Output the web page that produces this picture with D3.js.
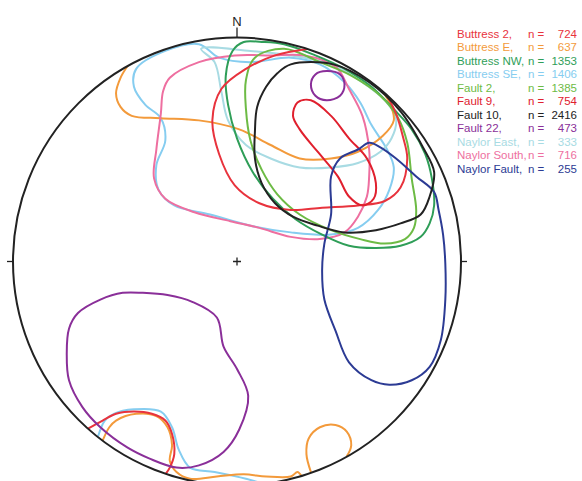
<!DOCTYPE html>
<html><head><meta charset="utf-8">
<script src="https://cdn.jsdelivr.net/npm/d3@7"></script>
<style>body{margin:0;background:#fff}svg{display:block}</style>
</head><body>
<svg id="chart" width="582" height="481"></svg>
<script>
// Data sets shown on the net, with their pole counts
const setNames = ["Buttress 2,", "Buttress E,", "Buttress NW,", "Buttress SE,", "Fault 2,", "Fault 9,",
  "Fault 10,", "Fault 22,", "Naylor East,", "Naylor South,", "Naylor Fault,"];
const setCounts = ["724", "637", "1353", "1406", "1385", "754", "2416", "473", "333", "716", "255"];
const setColors = ["#e8333d", "#f39a3b", "#2f9e58", "#86cdf0", "#6dbb45", "#e0202e",
  "#222222", "#8a2f99", "#a8dbe3", "#ee6fa0", "#2c3b94"];

// Contour rings in net coordinates (primitive radius = 100, x east, y north)
const buttress2Upper = [[67,74],[71,66],[74,56],[76,46],[73,33],[66,27],[54,25],[38,24],[24,23],[10,26],[-1,34],[-8,48],[-11,63],[-7,77],[4,86],[17,92],[32,95]];
const buttress2Lower = [[-66.5,-74.6],[-60,-71],[-54,-68],[-46,-67],[-38,-68],[-32,-71],[-29,-77],[-28,-86],[-30,-92],[-32,-95]];
const buttressEUpper = [[-48.7,87.5],[-52,82],[-54,75],[-52,69],[-47,65],[-34,64],[-17,63],[1,59],[15,52],[28,46],[42,46],[54,49],[65,56],[70,63],[68,71],[63,78],[60,80]];
const buttressELower = [[-60,-80],[-57,-74],[-54,-71],[-45,-68],[-36,-69],[-31,-74],[-29,-82],[-30,-89],[-27,-94],[-21,-97],[-9,-96],[3,-95],[13,-96],[24,-96],[27,-94],[29,-96]];
const buttressELoop = [[33,-94],[31,-86],[32,-79],[37,-74],[44,-73],[49,-76],[51,-82],[49,-87]];
const buttressNW = [[-2,94],[3,98],[11,98],[21,97],[35,92],[48,86],[60,78],[70,68],[78,59],[84,48],[87,37],[88,25],[86,17],[82,11],[73,7],[62,6],[50,7],[38,12],[26,19],[16,28],[7,40],[0,55],[-4,70],[-5,83]];
const buttressSE = [[-45,86],[-32,94],[-17,97],[-8,91],[6,89],[24,91],[37,88],[48,80],[55,71],[60,61],[67,50],[70,42],[68,32],[63,23],[54,15],[42,12],[24,13],[6,16],[-12,21],[-28,25],[-35,32],[-36,43],[-32,54],[-34,64],[-41,70],[-46,78]];
const buttressSELower = [[-62,-78],[-59,-71],[-55,-68],[-46,-66],[-34,-67],[-29,-74],[-26,-84],[-21,-92],[-10,-94],[4,-97],[11,-99]];
const fault2 = [[8,91],[21,95],[37,89],[51,83],[64,74],[72,64],[76,53],[78,37],[80,23],[79,15],[75,10],[66,8],[55,10],[42,14],[28,21],[18,30],[11,41],[6,54],[4,68],[4,81]];
const fault9 = [[25,65],[27,71],[33,72],[42,65],[50,55],[58,46],[62,35],[61,28],[56,25],[50,29],[45,38],[36,49],[28,59]];
const fault10 = [[24,88],[43,88],[59,80],[73,67],[83,51],[88,40],[86,29],[82,21],[73,17],[62,14],[48,13],[36,16],[25,20],[17,26],[11,35],[8,46],[8,58],[9,69],[13,78],[18,84]];
const fault22Small = [[40,85],[46,83.5],[48,79],[46,74],[40,72],[35,74],[33,79],[35,83.5]];
const fault22Large = [[-42,-14],[-31,-15],[-20,-18],[-9,-25],[-6,-38],[0,-48],[5,-60],[1,-75],[-6,-85],[-17,-91],[-27,-92],[-39,-88],[-49,-83],[-61,-74],[-69,-65],[-75,-53],[-76,-41],[-75,-30],[-71,-23],[-61,-17],[-51,-14]];
const naylorEast = [[-16,95],[-10,89],[-7,76],[-4,63],[4,52],[15,46],[28,42],[42,42],[54,44],[64,49],[69,55],[71,64],[66,72],[56,80],[42,88],[24,92],[6,94]];
const naylorSouth = [[-30,82],[-17,89],[-1,92],[15,92],[30,92],[44,87],[50,77],[56,65],[59,50],[59,38],[58,29],[54,20],[48,13],[37,10],[24,11],[10,15],[-3,18],[-19,22],[-32,28],[-37,37],[-36,50],[-34,66],[-33,76]];
const naylorFault = [[42,38],[46,46],[54,50],[59,53],[64,51],[71,46],[80,38],[88,31],[90,23],[92,12],[93,-1],[93,-17],[91,-35],[86,-47],[78,-53],[68,-55],[60,-53],[50,-45],[44,-31],[39,-17],[38,-4],[39,8],[42,21]];

// Which rings belong to each set (closed loops vs. arcs ending on the primitive)
const setRings = [
  [{pts: buttress2Upper, closed: false}, {pts: buttress2Lower, closed: false}],
  [{pts: buttressEUpper, closed: false}, {pts: buttressELower, closed: false}, {pts: buttressELoop, closed: false}],
  [{pts: buttressNW, closed: true}],
  [{pts: buttressSE, closed: true}, {pts: buttressSELower, closed: false}],
  [{pts: fault2, closed: true}],
  [{pts: fault9, closed: true}],
  [{pts: fault10, closed: true}],
  [{pts: fault22Small, closed: true}, {pts: fault22Large, closed: true}],
  [{pts: naylorEast, closed: true}],
  [{pts: naylorSouth, closed: true}],
  [{pts: naylorFault, closed: true}]
];
const drawOrder = [3, 8, 1, 9, 2, 4, 0, 5, 7, 10, 6];

const cx = 237, cy = 261.5, R = 224;
const x = d3.scaleLinear().domain([-100, 100]).range([cx - R, cx + R]);
const y = d3.scaleLinear().domain([-100, 100]).range([cy + R, cy - R]);

const svg = d3.select("#chart");
const defs = svg.append("defs");
defs.append("clipPath").attr("id", "net").append("circle")
  .attr("cx", x(0)).attr("cy", y(0)).attr("r", x(100) - x(0));

const gC = svg.append("g").attr("clip-path", "url(#net)");
const lineOpen = d3.line().x(d => x(d[0])).y(d => y(d[1])).curve(d3.curveCatmullRom.alpha(0.5));
const lineClosed = d3.line().x(d => x(d[0])).y(d => y(d[1])).curve(d3.curveCatmullRomClosed.alpha(0.5));

drawOrder.forEach(i => {
  setRings[i].forEach(r => {
    gC.append("path")
      .attr("d", (r.closed ? lineClosed : lineOpen)(r.pts))
      .attr("fill", "none")
      .attr("stroke", setColors[i])
      .attr("stroke-width", 2)
      .attr("stroke-linejoin", "round");
  });
});

// Primitive circle, ticks and centre mark
svg.append("circle").attr("cx", x(0)).attr("cy", y(0)).attr("r", x(100) - x(0))
  .attr("fill", "none").attr("stroke", "#222").attr("stroke-width", 2);
const tick = 6;
svg.append("line").attr("x1", x(0)).attr("x2", x(0)).attr("y1", y(100)).attr("y2", y(100) - tick - 4).attr("stroke", "#222").attr("stroke-width", 1.3);
svg.append("line").attr("x1", x(-100)).attr("x2", x(-100) - tick).attr("y1", y(0)).attr("y2", y(0)).attr("stroke", "#222").attr("stroke-width", 1.3);
svg.append("line").attr("x1", x(100)).attr("x2", x(100) + tick).attr("y1", y(0)).attr("y2", y(0)).attr("stroke", "#222").attr("stroke-width", 1.3);
svg.append("path").attr("d", `M${x(0) - 4},${y(0)}H${x(0) + 4}M${x(0)},${y(0) - 4}V${y(0) + 4}`)
  .attr("stroke", "#222").attr("stroke-width", 1.3);
svg.append("text").attr("x", x(0)).attr("y", y(100) - 11.5).attr("text-anchor", "middle")
  .attr("font-family", "Liberation Sans, Arial, sans-serif").attr("font-size", 13).attr("fill", "#222").text("N");

// Legend
const leg = svg.append("g").attr("font-family", "Liberation Sans, Arial, sans-serif").attr("font-size", 11.5);
setNames.forEach((n, i) => {
  const yy = 37.5 + i * 13.55;
  leg.append("text").attr("x", 457).attr("y", yy).attr("fill", setColors[i]).text(n);
  leg.append("text").attr("x", 528).attr("y", yy).attr("fill", setColors[i]).text("n =");
  leg.append("text").attr("x", 577).attr("y", yy).attr("text-anchor", "end").attr("fill", setColors[i]).text(setCounts[i]);
});
</script>
</body></html>
